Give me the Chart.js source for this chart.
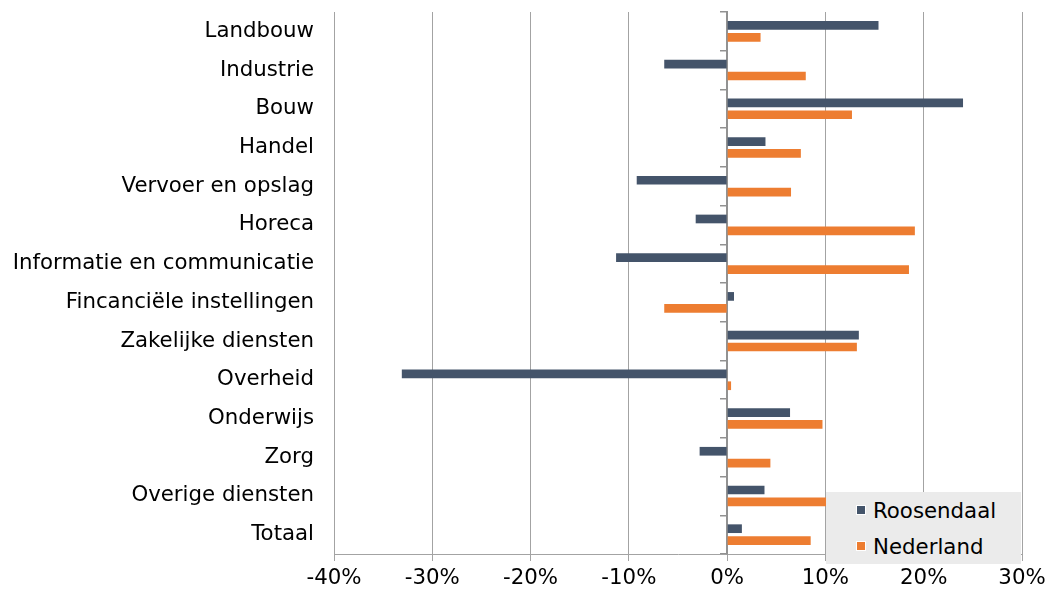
<!DOCTYPE html>
<html>
<head>
<meta charset="utf-8">
<script src="https://cdn.jsdelivr.net/npm/chart.js@4/dist/chart.umd.min.js"></script>
<style>
  body { margin: 0; background: #fff; }
  #wrap { position: relative; width: 1048px; height: 591px; }
  #legend {
    position: absolute; left: 826px; top: 492px; width: 195px; height: 72px;
    background: #ebebeb; font-family: 'DejaVu Sans', sans-serif; font-size: 21.3px; color: #000;
  }
  #legend .item { position: absolute; left: 30px; height: 26px; line-height: 26px; white-space: nowrap; }
  #legend .box { display: inline-block; width: 8px; height: 8px; border: 1px solid #fff; margin-right: 7px; vertical-align: 3px; }
</style>
</head>
<body>
<div id="wrap">
  <canvas id="barChart" width="1048" height="591"></canvas>
  <div id="legend"></div>
</div>
<script>
const categories = ['Landbouw', 'Industrie', 'Bouw', 'Handel', 'Vervoer en opslag', 'Horeca',
  'Informatie en communicatie', 'Fincanciële instellingen', 'Zakelijke diensten', 'Overheid',
  'Onderwijs', 'Zorg', 'Overige diensten', 'Totaal'];
const roosendaal = [15.4, -6.4, 24.0, 3.9, -9.2, -3.2, -11.3, 0.7, 13.4, -33.1, 6.4, -2.8, 3.8, 1.5];
const nederland = [3.4, 8.0, 12.7, 7.5, 6.5, 19.1, 18.5, -6.4, 13.2, 0.4, 9.7, 4.4, 10.3, 8.5];
const xTicks = [-40, -30, -20, -10, 0, 10, 20, 30];

const gridGrey = '#a3a3a3';
const axisGrey = '#929292';
Chart.defaults.font.family = "'DejaVu Sans', sans-serif";
Chart.defaults.font.size = 21.3;
Chart.defaults.color = '#000';

// keep the plot area fixed, labels may overhang
function noPad(s) {
  s.paddingTop = 0;
  s.paddingBottom = 0;
}

const ctx = document.getElementById('barChart').getContext('2d');
const chart = new Chart(ctx, {
  type: 'bar',
  data: {
    labels: categories,
    datasets: [
      { label: 'Roosendaal', data: roosendaal, backgroundColor: '#44546a', categoryPercentage: 0.615, barPercentage: 0.73 },
      { label: 'Nederland', data: nederland, backgroundColor: '#ed7d31', categoryPercentage: 0.615, barPercentage: 0.73 }
    ]
  },
  options: {
    indexAxis: 'y',
    responsive: false,
    animation: false,
    layout: { padding: { top: 12, right: 26, left: 0, bottom: 0 } },
    plugins: { legend: { display: false }, tooltip: { enabled: false } },
    scales: {
      x: {
        min: xTicks[0],
        max: xTicks[xTicks.length - 1],
        afterBuildTicks: s => { s.ticks = xTicks.map(v => ({ value: v })); },
        afterFit: s => { s.height = 37; s.paddingLeft = 0; s.paddingRight = 0; },
        ticks: { padding: 5, callback: v => v + '%' },
        grid: { color: gridGrey, tickLength: 7, tickColor: gridGrey },
        border: { color: gridGrey }
      },
      y: {
        afterFit: s => { s.width = 334; noPad(s); },
        ticks: { padding: 12 },
        grid: { display: false },
        border: { display: false }
      },
      y0: {
        axis: 'y',
        type: 'category',
        position: { x: 0 },
        offset: true,
        afterFit: s => { s.width = 0; noPad(s); },
        ticks: { display: false },
        grid: { offset: true, drawOnChartArea: false, tickLength: 6, color: axisGrey, lineWidth: 1.5 },
        border: { color: axisGrey, width: 2 }
      }
    }
  }
});

// legend box built from the datasets
const legendEl = document.getElementById('legend');
chart.data.datasets.forEach((ds, i) => {
  const item = document.createElement('div');
  item.className = 'item';
  item.style.top = (6 + i * 36) + 'px';
  item.innerHTML = '<span class="box" style="background:' + ds.backgroundColor + '"></span>' + ds.label;
  legendEl.appendChild(item);
});
</script>
</body>
</html>
